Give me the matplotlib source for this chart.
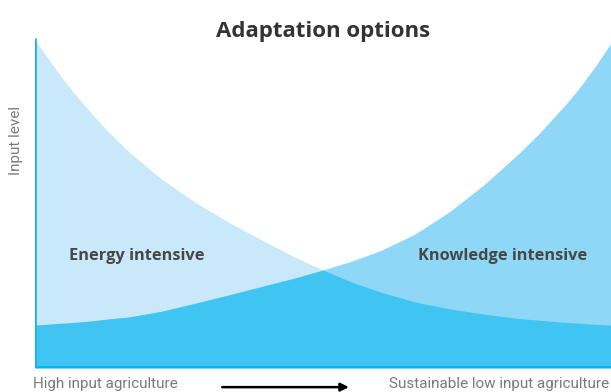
import matplotlib
matplotlib.use('Agg')
import matplotlib.pyplot as plt
import numpy as np

# position along the transition (0 = high input, 100 = sustainable low input)
x = [0, 2.5, 5, 7.5, 10, 12.5, 16.5, 22, 28, 34, 40, 45, 50, 55, 60, 66, 72,
     78, 84, 87.5, 90, 92.5, 95, 97.5, 100]
# input level of each option family
energy = [99.4, 93.2, 87.2, 81.8, 76.8, 72.0, 65.2, 57.2, 50.0, 43.8, 38.2, 33.7,
          29.7, 26.0, 23.0, 20.0, 17.9, 16.3, 15.0, 14.5, 14.1, 13.8, 13.5, 13.2, 13.0]
knowledge = [13.0, 13.3, 13.6, 13.9, 14.3, 14.8, 15.5, 17.2, 19.7, 22.3, 25.0, 27.2,
             29.7, 32.4, 35.6, 40.6, 47.4, 55.6, 65.0, 71.0, 75.8, 80.6, 86.0, 92.0, 98.5]

title = 'Adaptation options'
labels = ['Energy intensive', 'Knowledge intensive']
ylabel = 'Input level'
xlabels = ['High input agriculture', 'Sustainable low input agriculture']

fig = plt.figure(figsize=(6.11, 3.92), dpi=100)
ax = fig.add_axes([35 / 611, 24 / 392, 576 / 611, 330 / 392])
ax.set_xlim(0, 100)
ax.set_ylim(0, 100)
ax.axis('off')

e = np.array(energy)
k = np.array(knowledge)
ax.fill_between(x, 0, e, color='#c9e9fa', lw=0)
ax.fill_between(x, 0, k, color='#8fd7f6', lw=0)
ax.fill_between(x, 0, np.minimum(e, k), color='#40c5f2', lw=0)

# axis lines
ax.plot([0, 0], [0, 100], color='#1cb5ea', lw=2, solid_capstyle='butt')
ax.plot([0, 100], [0.3, 0.3], color='#08b2e8', lw=2, solid_capstyle='butt')

bold = dict(family=['Open Sans', 'DejaVu Sans'], fontweight='bold')
light = dict(family=['Roboto', 'DejaVu Sans'], fontweight='normal', color='#7a7a7a')

ax.text(50, 102.0, title, ha='center', va='center', fontsize=16, color='#333333',
        clip_on=False, **bold)
ax.text(17.7, 34, labels[0], ha='center', va='center', fontsize=11.8, color='#474747', **bold)
ax.text(81.1, 34, labels[1], ha='center', va='center', fontsize=11.8, color='#474747', **bold)

ax.text(-3.3, 68.8, ylabel, rotation=90, ha='center', va='center', fontsize=11,
        clip_on=False, **light)
ax.text(-0.3, -4.9, xlabels[0], ha='left', va='center', fontsize=11, clip_on=False, **light)
ax.text(99.6, -4.9, xlabels[1], ha='right', va='center', fontsize=11, clip_on=False, **light)

ax.annotate('', xy=(54.5, -5.8), xytext=(32.5, -5.8), annotation_clip=False,
            arrowprops=dict(arrowstyle='-|>', color='black', lw=1.8,
                            mutation_scale=12, shrinkA=0, shrinkB=0))

fig.savefig('out.png', dpi=100)
